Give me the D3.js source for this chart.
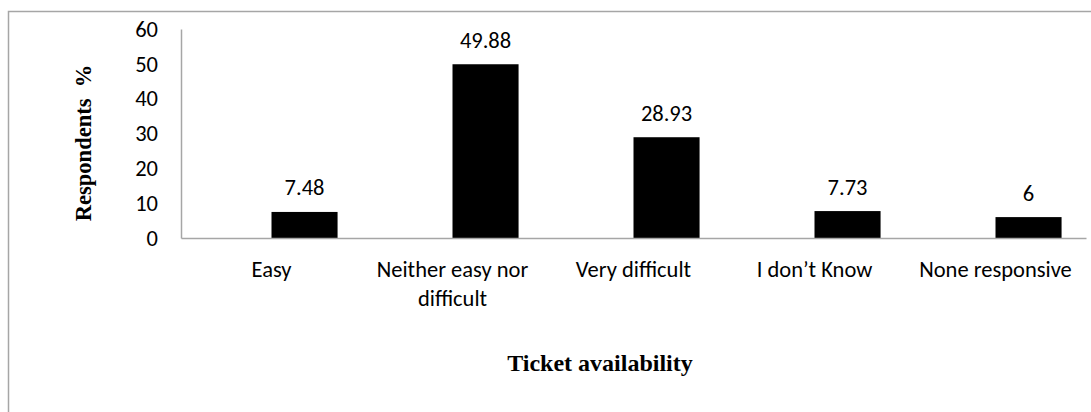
<!DOCTYPE html>
<html>
<head>
<meta charset="utf-8">
<script src="https://cdn.jsdelivr.net/npm/d3@7"></script>
<style>
  html, body { margin: 0; padding: 0; background: #fff; }
  svg { display: block; }
</style>
</head>
<body>
<svg id="chart" width="1091" height="412"></svg>
<script>
// Survey responses on ticket availability (% of respondents)
const categories = [
  ["Easy"],
  ["Neither easy nor", "difficult"],
  ["Very difficult"],
  ["I don\u2019t Know"],
  ["None responsive"]
];
const values = [7.48, 49.88, 28.93, 7.73, 6];
const valueLabels = ["7.48", "49.88", "28.93", "7.73", "6"];
const yTicks = [0, 10, 20, 30, 40, 50, 60];

const sansFont = "Carlito, 'Open Sans', sans-serif";
const serifFont = "'Liberation Serif', 'Times New Roman', serif";
const axisColor = "#a6a6a6";
const sansSize = 22.5;

const svg = d3.select("#chart");

// outer frame of the chart area
svg.append("rect")
  .attr("x", 8.5).attr("y", 11.5)
  .attr("width", 1200).attr("height", 500)
  .attr("fill", "none")
  .attr("stroke", axisColor)
  .attr("stroke-width", 1.5);

const plot = { left: 181, right: 1086, top: 29, bottom: 238 };
const keys = categories.map((c, i) => i);

const x = d3.scaleBand().domain(keys).range([plot.left, plot.right]).padding(0);
const y = d3.scaleLinear().domain([0, 60]).range([plot.bottom, plot.top]);
const barW = x.bandwidth() * 0.365;

// bars start at the centre of each category slot
svg.append("g").selectAll("rect")
  .data(values)
  .join("rect")
  .attr("x", (d, i) => x(i) + x.bandwidth() / 2)
  .attr("y", d => y(d))
  .attr("width", barW)
  .attr("height", d => y(0) - y(d))
  .attr("fill", "#000");

// value labels above bars
svg.append("g").selectAll("text")
  .data(values)
  .join("text")
  .attr("x", (d, i) => x(i) + x.bandwidth() / 2 + barW / 2)
  .attr("y", d => y(d) - 16.5)
  .attr("text-anchor", "middle")
  .attr("font-family", sansFont)
  .attr("font-size", sansSize)
  .attr("fill", "#000")
  .text((d, i) => valueLabels[i]);

// y axis
const yAxis = d3.axisLeft(y).tickValues(yTicks).tickSize(0).tickPadding(23);
const gy = svg.append("g").attr("transform", `translate(${plot.left},0)`).call(yAxis);
gy.select(".domain").attr("stroke", axisColor).attr("stroke-width", 1.5);
gy.selectAll("text")
  .attr("font-family", sansFont)
  .attr("font-size", sansSize)
  .attr("fill", "#000");

// x axis baseline
const xAxis = d3.axisBottom(x).tickSize(0).tickFormat(() => "");
const gx = svg.append("g").attr("transform", `translate(0,${plot.bottom})`).call(xAxis);
gx.select(".domain").attr("stroke", axisColor).attr("stroke-width", 1.5);

// category labels (wrapped)
const catG = svg.append("g");
categories.forEach((lines, i) => {
  const t = catG.append("text")
    .attr("x", x(i) + x.bandwidth() / 2)
    .attr("y", 277)
    .attr("text-anchor", "middle")
    .attr("font-family", sansFont)
    .attr("font-size", sansSize)
    .attr("fill", "#000");
  lines.forEach((ln, j) => {
    t.append("tspan")
      .attr("x", x(i) + x.bandwidth() / 2)
      .attr("dy", j === 0 ? 0 : 28.5)
      .text(ln);
  });
});

// axis titles
svg.append("text")
  .attr("transform", "translate(91,143) rotate(-90)")
  .attr("text-anchor", "middle")
  .attr("font-family", serifFont)
  .attr("font-weight", "bold")
  .attr("font-size", 22.5)
  .attr("fill", "#000")
  .attr("xml:space", "preserve")
  .style("white-space", "pre")
  .text("Respondents  %");

svg.append("text")
  .attr("x", 600)
  .attr("y", 371)
  .attr("text-anchor", "middle")
  .attr("font-family", serifFont)
  .attr("font-weight", "bold")
  .attr("font-size", 24)
  .attr("fill", "#000")
  .text("Ticket availability");
</script>
</body>
</html>
